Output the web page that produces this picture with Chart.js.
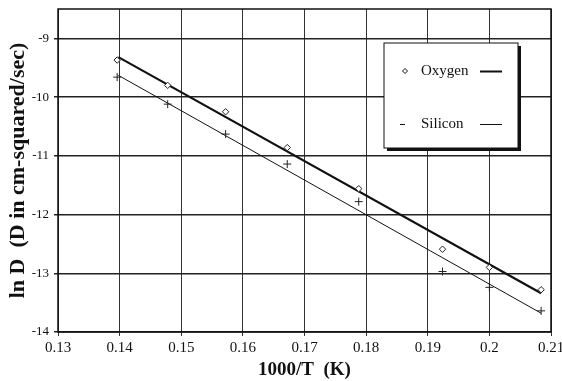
<!DOCTYPE html>
<html lang="en">
<head>
<meta charset="UTF-8">
<title>ln D vs 1000/T</title>
<script src="https://cdn.jsdelivr.net/npm/chart.js"></script>
<style>
  html, body { margin: 0; padding: 0; background: #fff; }
  #wrap { width: 562px; height: 381px; }
</style>
</head>
<body>
<div id="wrap"><canvas id="diffChart" width="562" height="381"></canvas></div>
<script>
// measured points
const xValues = [0.1396, 0.1478, 0.1572, 0.1672, 0.1788, 0.1924, 0.2, 0.2084];
const oxygenValues = [-9.37, -9.8, -10.25, -10.86, -11.56, -12.59, -12.9, -13.28];
const siliconValues = [-9.66, -10.12, -10.63, -11.14, -11.78, -12.97, -13.24, -13.64];

// fitted lines (end points)
const fitX = [0.1398, 0.2084];
const oxygenFit = [-9.32, -13.34];
const siliconFit = [-9.63, -13.68];

const xTicks = [0.13, 0.14, 0.15, 0.16, 0.17, 0.18, 0.19, 0.2, 0.21];
const yTicks = [-14, -13, -12, -11, -10, -9];

const legendItems = ['Oxygen', 'Silicon'];

const toPts = (xs, ys) => xs.map((x, i) => ({ x: x, y: ys[i] }));

// frame round the plot + legend box
const framePlugin = {
    id: 'frame',
    afterDraw(chart) {
        const ctx = chart.ctx;
        const a = chart.chartArea;
        ctx.save();
        ctx.strokeStyle = '#111';
        ctx.lineWidth = 1.5;
        ctx.strokeRect(a.left, a.top, a.right - a.left, a.bottom - a.top);

        // legend box with drop shadow
        const bx = 384, by = 43, bw = 134, bh = 105;
        ctx.fillStyle = '#111';
        ctx.fillRect(bx + 3, by + 3, bw, bh);
        ctx.fillStyle = '#fff';
        ctx.fillRect(bx, by, bw, bh);
        ctx.lineWidth = 1;
        ctx.strokeRect(bx, by, bw, bh);

        ctx.font = '15px "Liberation Serif"';
        ctx.fillStyle = '#111';
        ctx.textBaseline = 'middle';
        ctx.textAlign = 'left';
        const rows = [71, 124];
        legendItems.forEach((name, i) => {
            const y = rows[i];
            ctx.fillText(name, 421, y);
            ctx.beginPath();
            ctx.lineWidth = i === 0 ? 2 : 1;
            ctx.moveTo(480, y + 0.5);
            ctx.lineTo(502, y + 0.5);
            ctx.stroke();
        });
        // oxygen marker (small diamond)
        ctx.lineWidth = 1;
        ctx.beginPath();
        ctx.moveTo(405, rows[0] - 2.5);
        ctx.lineTo(407.5, rows[0]);
        ctx.lineTo(405, rows[0] + 2.5);
        ctx.lineTo(402.5, rows[0]);
        ctx.closePath();
        ctx.stroke();
        // silicon marker (short dash)
        ctx.beginPath();
        ctx.moveTo(400, rows[1] + 0.5);
        ctx.lineTo(405, rows[1] + 0.5);
        ctx.stroke();
        ctx.restore();
    }
};

const ctx = document.getElementById('diffChart').getContext('2d');
new Chart(ctx, {
    type: 'scatter',
    data: {
        datasets: [
            {
                label: 'Oxygen',
                data: toPts(xValues, oxygenValues),
                pointStyle: 'rectRot',
                pointRadius: 3.2,
                borderColor: '#222',
                backgroundColor: '#fff',
                borderWidth: 1,
                showLine: false
            },
            {
                label: 'Silicon',
                data: toPts(xValues, siliconValues),
                pointStyle: 'cross',
                pointRadius: 4,
                borderColor: '#222',
                borderWidth: 1,
                showLine: false
            },
            {
                label: 'Oxygen fit',
                data: toPts(fitX, oxygenFit),
                showLine: true,
                pointRadius: 0,
                borderColor: '#111',
                borderWidth: 2.2
            },
            {
                label: 'Silicon fit',
                data: toPts(fitX, siliconFit),
                showLine: true,
                pointRadius: 0,
                borderColor: '#111',
                borderWidth: 1
            }
        ]
    },
    options: {
        responsive: false,
        animation: false,
        layout: { padding: { top: 9, right: 11, left: 0, bottom: 0 } },
        plugins: {
            legend: { display: false },
            tooltip: { enabled: false }
        },
        scales: {
            x: {
                type: 'linear',
                min: 0.13,
                max: 0.21,
                afterBuildTicks: s => { s.ticks = xTicks.map(v => ({ value: v })); },
                afterFit: s => { s.height = 49; s.paddingLeft = 0; s.paddingRight = 0; },
                ticks: {
                    color: '#111',
                    font: { family: '"Liberation Serif"', size: 15 },
                    padding: 3,
                    maxRotation: 0,
                    callback: v => String(+v.toFixed(2))
                },
                grid: { color: '#333', lineWidth: 1, tickLength: 4 },
                border: { display: false },
                title: {
                    display: true,
                    text: '1000/T  (K)',
                    color: '#111',
                    font: { family: '"Liberation Serif"', size: 19, weight: 'bold' },
                    padding: { top: 0, bottom: 0 }
                }
            },
            y: {
                type: 'linear',
                min: -14,
                max: -8.5,
                afterBuildTicks: s => { s.ticks = yTicks.map(v => ({ value: v })); },
                afterFit: s => { s.width = 58; s.paddingTop = 0; s.paddingBottom = 0; },
                ticks: {
                    color: '#111',
                    font: { family: '"Liberation Serif"', size: 13 },
                    padding: 5,
                    callback: v => String(v)
                },
                grid: { color: '#222', lineWidth: 1.5, tickLength: 4 },
                border: { display: false },
                title: {
                    display: true,
                    text: 'ln D  (D in cm-squared/sec)',
                    color: '#111',
                    font: { family: '"Liberation Serif"', size: 22, weight: 'bold' },
                    padding: { top: 5, bottom: 0 }
                }
            }
        }
    },
    plugins: [framePlugin]
});
</script>
</body>
</html>
